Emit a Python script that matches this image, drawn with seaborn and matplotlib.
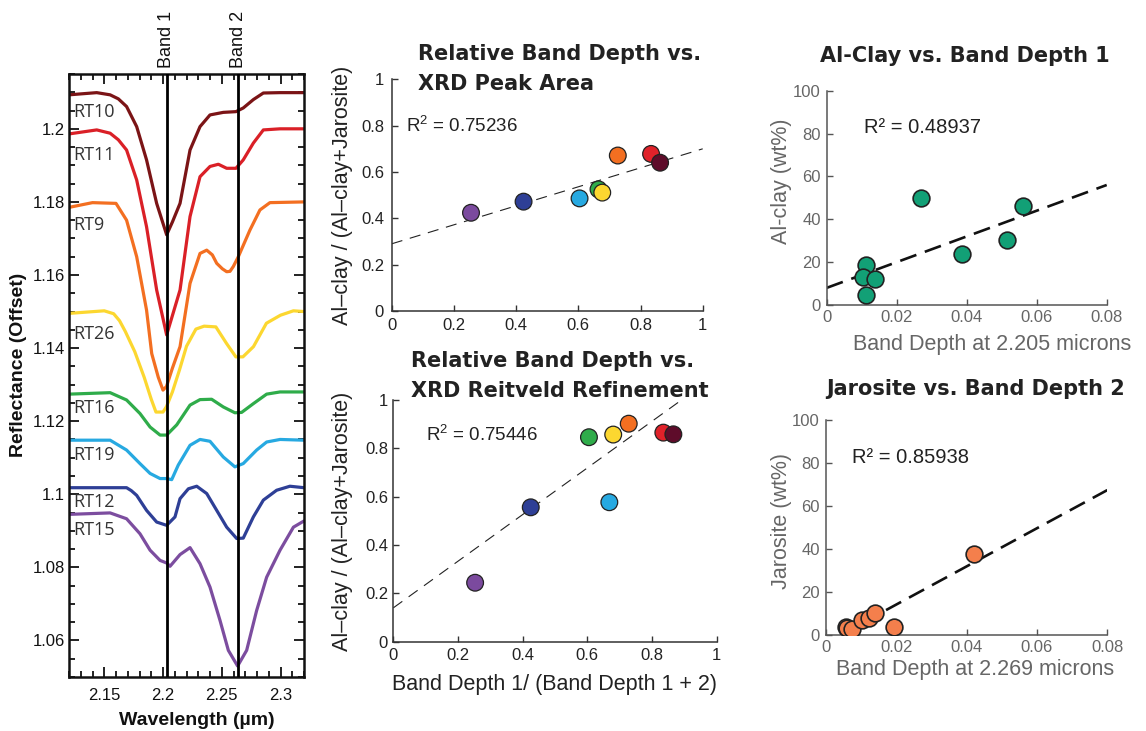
import numpy as np
import pandas as pd
import matplotlib
matplotlib.use("Agg")
import matplotlib.pyplot as plt
import matplotlib.transforms as mtransforms
from matplotlib.ticker import MultipleLocator, FixedLocator
import seaborn as sns

# ---------------- data ----------------
samples = ["RT10", "RT11", "RT9", "RT26", "RT16", "RT19", "RT12", "RT15"]
spectrum_colors = ["#7b1416", "#da2027", "#f36f21", "#fcd730",
                   "#2fac4a", "#27a9e1", "#2e3f96", "#7c4d9f"]

wl_RT10 = [2.12, 2.1436, 2.155, 2.162, 2.169, 2.1776, 2.186, 2.1946, 2.2031, 2.208, 2.2145, 2.223,
           2.2315, 2.24, 2.2513, 2.2621, 2.2683, 2.2769, 2.2854, 2.2996, 2.32]
refl_RT10 = [1.2093, 1.2099, 1.2093, 1.2082, 1.2061, 1.2006, 1.1915, 1.1796, 1.1710, 1.1745, 1.1796,
             1.1942, 1.2006, 1.2038, 1.2045, 1.2047, 1.2057, 1.2080, 1.2098, 1.2099, 1.2099]

wl_RT11 = [2.12, 2.1436, 2.155, 2.162, 2.169, 2.1776, 2.186, 2.1946, 2.2031, 2.2145, 2.223, 2.2315,
           2.24, 2.2471, 2.2542, 2.2621, 2.2683, 2.2769, 2.2854, 2.2996, 2.32]
refl_RT11 = [1.1986, 1.1997, 1.1988, 1.1970, 1.1942, 1.1860, 1.1732, 1.1559, 1.1436, 1.1559, 1.1760,
             1.1869, 1.1897, 1.1903, 1.1892, 1.1892, 1.1915, 1.1961, 1.1997, 1.2000, 1.2000]

wl_RT9 = [2.12, 2.14, 2.16, 2.169, 2.1776, 2.186, 2.1904, 2.196, 2.2, 2.203, 2.208, 2.2145, 2.223,
          2.2315, 2.2372, 2.242, 2.2457, 2.2505, 2.2542, 2.257, 2.2598, 2.2641, 2.274, 2.2825,
          2.291, 2.32]
refl_RT9 = [1.1785, 1.1798, 1.1796, 1.1750, 1.1650, 1.1504, 1.1385, 1.1320, 1.1285, 1.1295, 1.1345,
            1.1404, 1.1577, 1.1659, 1.1668, 1.1655, 1.1632, 1.1617, 1.1609, 1.1610, 1.1623, 1.1650,
            1.1723, 1.1778, 1.1798, 1.1800]

wl_RT26 = [2.12, 2.15, 2.158, 2.163, 2.168, 2.176, 2.184, 2.19, 2.194, 2.2, 2.203, 2.208, 2.214,
           2.22, 2.228, 2.235, 2.245, 2.254, 2.262, 2.268, 2.277, 2.288, 2.30, 2.311, 2.32]
refl_RT26 = [1.1495, 1.1502, 1.1494, 1.1475, 1.1445, 1.1390, 1.1320, 1.1260, 1.1225, 1.1225, 1.1240,
             1.1280, 1.1340, 1.1405, 1.1452, 1.1460, 1.1458, 1.1413, 1.1376, 1.1376, 1.1404, 1.1468,
             1.1490, 1.1502, 1.1500]

wl_RT16 = [2.12, 2.155, 2.169, 2.1804, 2.189, 2.1975, 2.2031, 2.2117, 2.223, 2.2315, 2.2414,
           2.2513, 2.2612, 2.2669, 2.2769, 2.2882, 2.2996, 2.32]
refl_RT16 = [1.1274, 1.1278, 1.1258, 1.1221, 1.1184, 1.1162, 1.1162, 1.1190, 1.1244, 1.1259, 1.1260,
             1.1239, 1.1223, 1.1224, 1.1248, 1.1274, 1.1280, 1.1280]

wl_RT19 = [2.12, 2.155, 2.169, 2.1804, 2.189, 2.1975, 2.2031, 2.2074, 2.213, 2.223, 2.2315, 2.24,
           2.2513, 2.2612, 2.2683, 2.2797, 2.2882, 2.2996, 2.32]
refl_RT19 = [1.1148, 1.1148, 1.1121, 1.1084, 1.1057, 1.1043, 1.1043, 1.1040, 1.1080, 1.1134, 1.1150,
             1.1145, 1.1102, 1.1075, 1.1084, 1.1121, 1.1143, 1.1150, 1.1148]

wl_RT12 = [2.12, 2.169, 2.173, 2.1776, 2.186, 2.1946, 2.2031, 2.2102, 2.2145, 2.2216, 2.2287, 2.2372,
           2.2457, 2.2542, 2.2627, 2.2683, 2.2769, 2.2854, 2.2967, 2.308, 2.32]
refl_RT12 = [1.1018, 1.1018, 1.1010, 1.0997, 1.0956, 1.0924, 1.0915, 1.0938, 1.0988, 1.1015, 1.1022,
             1.1002, 1.0956, 1.0910, 1.0879, 1.0880, 1.0938, 1.0984, 1.1011, 1.1022, 1.1018]

wl_RT15 = [2.12, 2.155, 2.169, 2.1804, 2.189, 2.1975, 2.2031, 2.206, 2.2145, 2.223, 2.2315, 2.24,
           2.2485, 2.2556, 2.2635, 2.2712, 2.2797, 2.2882, 2.2996, 2.311, 2.32]
refl_RT15 = [1.0945, 1.0949, 1.0933, 1.0892, 1.0847, 1.0819, 1.0812, 1.0803, 1.0835, 1.0854, 1.0810,
             1.0746, 1.0655, 1.0573, 1.0530, 1.0573, 1.0682, 1.0773, 1.0847, 1.0910, 1.0927]

label_wl = 2.1237
label_refl = [1.2047, 1.1929, 1.1737, 1.1438, 1.1236, 1.1107, 1.0978, 1.0901]
band_centers = [2.203, 2.264]
band_names = ["Band 1", "Band 2"]

# relative band depth scatter (order of drawing)
dot_samples = ["RT15", "RT12", "RT19", "RT16", "RT26", "RT9", "RT11", "RT10"]
dot_colors = ["#7b4a9e", "#2e3f96", "#27a9e1", "#2fac4a", "#fcd730", "#f36f21", "#e0222a", "#5e0c2a"]
peak_x = [0.255, 0.424, 0.604, 0.665, 0.677, 0.727, 0.834, 0.863]
peak_y = [0.424, 0.472, 0.486, 0.525, 0.511, 0.671, 0.678, 0.640]
riet_x = [0.253, 0.425, 0.668, 0.605, 0.680, 0.728, 0.835, 0.866]
riet_y = [0.244, 0.556, 0.577, 0.846, 0.857, 0.902, 0.865, 0.858]
peak_fit = (0.41, 0.29)     # slope, intercept
riet_fit = (0.965, 0.14)
peak_r2 = "0.75236"
riet_r2 = "0.75446"

# Al-clay vs band depth 1
bd1 = [0.02695, 0.0562, 0.0514, 0.0386, 0.01123, 0.01046, 0.0138, 0.01123]
alclay = [49.8, 46.3, 30.3, 23.6, 18.7, 13.2, 12.0, 4.7]
alclay_fit = (600.0, 8.0)
alclay_r2 = "0.48937"

# Jarosite vs band depth 2
bd2 = [0.0422, 0.00568, 0.0060, 0.00739, 0.01023, 0.01239, 0.0140, 0.0194]
jarosite = [37.5, 3.86, 3.4, 2.65, 6.98, 8.05, 10.4, 3.86]
jaro_fit = (888.0, -3.64)
jaro_r2 = "0.85938"

# ---------------- style ----------------
sns.set_theme(style="white")
plt.rcParams["font.family"] = ["Liberation Sans", "DejaVu Sans"]
plt.rcParams["mathtext.default"] = "regular"

W, H = 1146, 731
fig = plt.figure(figsize=(W / 100, H / 100), dpi=100)


def rect(l, t, r, b):
    return [l / W, 1 - b / H, (r - l) / W, (b - t) / H]


def ftext(x, y, s, **kw):
    fig.text(x / W, 1 - y / H, s, **kw)


# ---------------- spectra panel ----------------
ax0 = fig.add_axes(rect(69, 74, 304, 677))
spec_wl = [wl_RT10, wl_RT11, wl_RT9, wl_RT26, wl_RT16, wl_RT19, wl_RT12, wl_RT15]
spec_refl = [refl_RT10, refl_RT11, refl_RT9, refl_RT26, refl_RT16, refl_RT19, refl_RT12, refl_RT15]
spec_df = pd.concat([pd.DataFrame({"wl": w, "refl": r, "sample": s})
                     for s, w, r in zip(samples, spec_wl, spec_refl)], ignore_index=True)
sns.lineplot(data=spec_df, x="wl", y="refl", hue="sample", hue_order=samples,
             palette=dict(zip(samples, spectrum_colors)), estimator=None, sort=False,
             linewidth=2.3, legend=False, ax=ax0)
for line in ax0.get_lines():
    line.set_solid_joinstyle("round")
for b, name in zip(band_centers, band_names):
    ax0.axvline(b, color="black", lw=2, zorder=5)
    ax0.text(b, 1 + 6 / 603, name, transform=mtransforms.blended_transform_factory(ax0.transData, ax0.transAxes),
             rotation=90, ha="center", va="bottom", fontsize=13, color="#111")
for s, yv in zip(samples, label_refl):
    ax0.text(label_wl, yv, s, ha="left", va="center", fontsize=13, color="#333",
             family=["Open Sans", "DejaVu Sans"])
ax0.set_xlim(2.12, 2.32)
ax0.set_ylim(1.05, 1.215)
ax0.xaxis.set_major_locator(FixedLocator([2.15, 2.2, 2.25, 2.3]))
ax0.set_xticklabels(["2.15", "2.2", "2.25", "2.3"])
yt = [1.06, 1.08, 1.1, 1.12, 1.14, 1.16, 1.18, 1.2]
ax0.yaxis.set_major_locator(FixedLocator(yt))
ax0.set_yticklabels(["1.06", "1.08", "1.1", "1.12", "1.14", "1.16", "1.18", "1.2"])
ax0.xaxis.set_minor_locator(MultipleLocator(0.01))
ax0.yaxis.set_minor_locator(MultipleLocator(0.005))
ax0.tick_params(which="both", direction="in", top=True, right=True, bottom=True, left=True,
                colors="#111", labelsize=12, width=1.3)
ax0.tick_params(which="major", length=7)
ax0.tick_params(which="minor", length=4)
ax0.tick_params(axis="x", pad=8)
ax0.tick_params(axis="y", pad=3)
for sp in ax0.spines.values():
    sp.set_visible(True)
    sp.set_color("#111")
    sp.set_linewidth(1.8)
ax0.set_xlabel("")
ax0.set_ylabel("")
ftext(19, 365, "Reflectance (Offset)", rotation=90, ha="center", va="center",
      fontsize=14, fontweight="bold", color="#111")
ftext(197, 725, "Wavelength (\u00b5m)", ha="center", va="baseline",
      fontsize=14, fontweight="bold", color="#111")


# ---------------- scatter helpers ----------------
def style_axes(ax, col, tcol, lsize, xpad, ypad):
    for k in ["top", "right"]:
        ax.spines[k].set_visible(False)
    for k in ["left", "bottom"]:
        ax.spines[k].set_visible(True)
        ax.spines[k].set_color(col)
        ax.spines[k].set_linewidth(1.1)
    ax.tick_params(direction="in", length=4, width=1, colors=col, labelcolor=tcol,
                   labelsize=lsize, left=True, bottom=True)
    ax.tick_params(axis="x", pad=xpad)
    ax.tick_params(axis="y", pad=ypad)
    ax.set_xlabel("")
    ax.set_ylabel("")


rel_ticks = [0, 0.2, 0.4, 0.6, 0.8, 1]
rel_labels = ["0", "0.2", "0.4", "0.6", "0.8", "1"]
pal = dict(zip(dot_samples, dot_colors))

# middle top
ax1 = fig.add_axes(rect(391.7, 79.3, 702.7, 311))
df1 = pd.DataFrame({"x": peak_x, "y": peak_y, "sample": dot_samples})
xx = np.array([0.0, 1.0])
ax1.plot(xx, peak_fit[0] * xx + peak_fit[1], color="#222", lw=0.8, dashes=(10, 7), zorder=1)
sns.scatterplot(data=df1, x="x", y="y", hue="sample", palette=pal, s=145, edgecolor="#222",
                linewidth=0.9, legend=False, ax=ax1, zorder=3)
ax1.set_xlim(0, 1)
ax1.set_ylim(0, 1)
ax1.set_xticks(rel_ticks, rel_labels)
ax1.set_yticks(rel_ticks, rel_labels)
style_axes(ax1, "#333", "#222", 12, 5, 5.5)
ftext(406, 131.7, "R$^2$ = " + peak_r2, ha="left", va="baseline", fontsize=13.5, color="#222")
ftext(342.5, 195, "Al\u2013clay / (Al\u2013clay+Jarosite)", rotation=90, ha="center", va="center",
      fontsize=15.5, color="#222")
ftext(418, 60, "Relative Band Depth vs.", ha="left", va="baseline", fontsize=15,
      fontweight="bold", color="#222", family="DejaVu Sans")
ftext(418, 90, "XRD Peak Area", ha="left", va="baseline", fontsize=15,
      fontweight="bold", color="#222", family="DejaVu Sans")

# middle bottom
ax2 = fig.add_axes(rect(393.3, 400, 716.7, 641.7))
df2 = pd.DataFrame({"x": riet_x, "y": riet_y, "sample": dot_samples})
xx2 = np.array([0.0, (1 - riet_fit[1]) / riet_fit[0]])
ax2.plot(xx2, riet_fit[0] * xx2 + riet_fit[1], color="#222", lw=0.8, dashes=(10, 7), zorder=1)
sns.scatterplot(data=df2, x="x", y="y", hue="sample", palette=pal, s=145, edgecolor="#222",
                linewidth=0.9, legend=False, ax=ax2, zorder=3)
ax2.set_xlim(0, 1)
ax2.set_ylim(0, 1)
ax2.set_xticks(rel_ticks, rel_labels)
ax2.set_yticks(rel_ticks, rel_labels)
style_axes(ax2, "#333", "#222", 12, 4.5, 3.8)
ftext(426, 440.7, "R$^2$ = " + riet_r2, ha="left", va="baseline", fontsize=13.5, color="#222")
ftext(342.5, 521, "Al\u2013clay / (Al\u2013clay+Jarosite)", rotation=90, ha="center", va="center",
      fontsize=15.5, color="#222")
ftext(554, 690, "Band Depth 1/ (Band Depth 1 + 2)", ha="center", va="baseline",
      fontsize=15.5, color="#222")
ftext(410.7, 367.3, "Relative Band Depth vs.", ha="left", va="baseline", fontsize=15,
      fontweight="bold", color="#222", family="DejaVu Sans")
ftext(410.7, 396.7, "XRD Reitveld Refinement", ha="left", va="baseline", fontsize=15,
      fontweight="bold", color="#222", family="DejaVu Sans")

bd_ticks = [0, 0.02, 0.04, 0.06, 0.08]
bd_labels = ["0", "0.02", "0.04", "0.06", "0.08"]
wt_ticks = [0, 20, 40, 60, 80, 100]

# right top
ax3 = fig.add_axes(rect(826.7, 90.7, 1106.7, 305))
df3 = pd.DataFrame({"x": bd1, "y": alclay})
xx3 = np.array([0.0, 0.08])
ax3.plot(xx3, alclay_fit[0] * xx3 + alclay_fit[1], color="#111", lw=1.9, dashes=(6.5, 3.4), zorder=1)
sns.scatterplot(data=df3, x="x", y="y", color="#12a076", s=145, edgecolor="#222",
                linewidth=1.2, legend=False, ax=ax3, zorder=3)
ax3.set_xlim(0, 0.08)
ax3.set_ylim(0, 100)
ax3.set_xticks(bd_ticks, bd_labels)
ax3.set_yticks(wt_ticks, [str(t) for t in wt_ticks])
style_axes(ax3, "#555", "#666", 12, 3.6, 4.3)
ftext(864.3, 133.3, "R\u00b2 = " + alclay_r2, ha="left", va="baseline", fontsize=14.5, color="#222")
ftext(781.7, 181, "Al-clay (wt%)", rotation=90, ha="center", va="center", fontsize=15.5, color="#666")
ftext(992.5, 350, "Band Depth at 2.205 microns", ha="center", va="baseline", fontsize=15.5, color="#666")
ftext(965, 61.7, "Al-Clay vs. Band Depth 1", ha="center", va="baseline", fontsize=15,
      fontweight="bold", color="#222", family="DejaVu Sans")

# right bottom
ax4 = fig.add_axes(rect(825.7, 420, 1107.3, 635))
df4 = pd.DataFrame({"x": bd2, "y": jarosite})
xx4 = np.array([-jaro_fit[1] / jaro_fit[0], 0.08])
ax4.plot(xx4, jaro_fit[0] * xx4 + jaro_fit[1], color="#111", lw=1.9, dashes=(6.5, 3.4), zorder=1)
sns.scatterplot(data=df4, x="x", y="y", color="#f47f4c", s=145, edgecolor="#222",
                linewidth=1.2, legend=False, ax=ax4, zorder=3)
ax4.set_xlim(0, 0.08)
ax4.set_ylim(0, 100)
ax4.set_xticks(bd_ticks, bd_labels)
ax4.set_yticks(wt_ticks, [str(t) for t in wt_ticks])
style_axes(ax4, "#555", "#666", 12, 3.6, 4.3)
ftext(851.7, 463.3, "R\u00b2 = " + jaro_r2, ha="left", va="baseline", fontsize=14.5, color="#222")
ftext(781.7, 521, "Jarosite (wt%)", rotation=90, ha="center", va="center", fontsize=15.5, color="#666")
ftext(975, 675, "Band Depth at 2.269 microns", ha="center", va="baseline", fontsize=15.5, color="#666")
ftext(976, 395, "Jarosite vs. Band Depth 2", ha="center", va="baseline", fontsize=15,
      fontweight="bold", color="#222", family="DejaVu Sans")

fig.savefig("out.png", dpi=100)
